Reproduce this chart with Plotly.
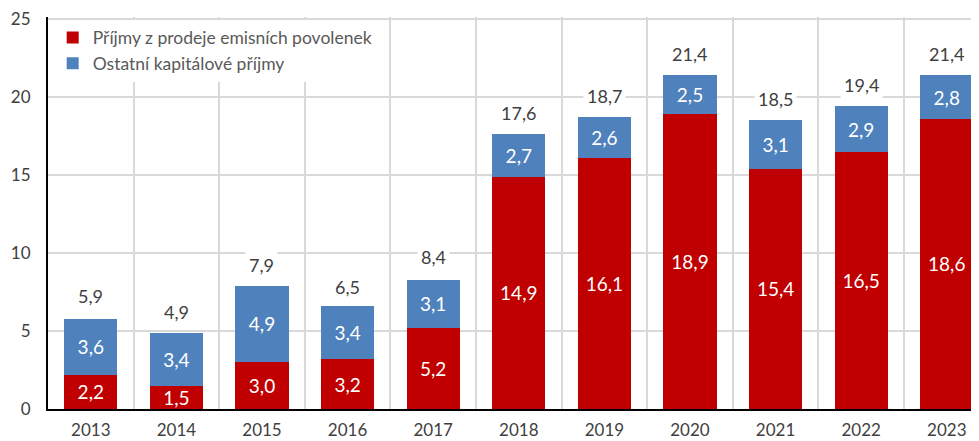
import plotly.graph_objects as go

years = ["2013", "2014", "2015", "2016", "2017", "2018", "2019", "2020", "2021", "2022", "2023"]
emise = [2.2, 1.5, 3.0, 3.2, 5.2, 14.9, 16.1, 18.9, 15.4, 16.5, 18.6]
ostatni = [3.6, 3.4, 4.9, 3.4, 3.1, 2.7, 2.6, 2.5, 3.1, 2.9, 2.8]
totals = [5.9, 4.9, 7.9, 6.5, 8.4, 17.6, 18.7, 21.4, 18.5, 19.4, 21.4]
y_ticks = [0, 5, 10, 15, 20, 25]

def fmt(v):
    return f"{v:.1f}".replace(".", ",")

FONT = "Lato, Calibri, Carlito, sans-serif"
GRID = "#D9D9D9"

fig = go.Figure()
fig.add_trace(go.Bar(
    x=years, y=emise, name="Příjmy z prodeje emisních povolenek",
    marker=dict(color="#C00000", line=dict(width=0)),
    text=[fmt(v) for v in emise], textposition="inside", insidetextanchor="middle",
    constraintext="none",
    textfont=dict(color="white", size=19, family=FONT), width=0.62,
))
fig.add_trace(go.Bar(
    x=years, y=ostatni, name="Ostatní kapitálové příjmy",
    marker=dict(color="#4F81BD", line=dict(width=0)),
    text=[fmt(v) for v in ostatni], textposition="inside", insidetextanchor="middle",
    constraintext="none",
    textfont=dict(color="white", size=19, family=FONT), width=0.62,
))

for i, t in enumerate(totals):
    fig.add_annotation(x=i, y=t, xref="x", yref="y", text=fmt(t), showarrow=False,
                       yanchor="bottom", yshift=6, bgcolor="white", borderpad=3,
                       font=dict(size=18, color="#404040", family=FONT))

# top gridline (at the highest tick) drawn explicitly
fig.add_shape(type="line", xref="paper", yref="y", x0=0, x1=1,
              y0=max(y_ticks), y1=max(y_ticks), layer="below",
              line=dict(color=GRID, width=2))

fig.update_layout(
    barmode="stack",
    width=979, height=441,
    margin=dict(l=40, r=0, t=9, b=40),
    plot_bgcolor="white", paper_bgcolor="white",
    font=dict(family=FONT, size=16, color="#404040"),
    legend=dict(x=0.005, y=0.993, xanchor="left", yanchor="top", bgcolor="white",
                font=dict(size=17.5, color="#595959", family=FONT),
                traceorder="normal", itemwidth=30, tracegroupgap=2),
    showlegend=True,
)
fig.update_xaxes(
    type="category", automargin=False,
    range=[-0.5, 10.47], showline=True, linecolor="black", linewidth=2,
    showgrid=True, gridcolor=GRID, gridwidth=2, tickson="boundaries",
    ticks="", tickfont=dict(size=17, color="#404040"), ticklabelstandoff=5,
    ticklabeloverflow="allow",
)
fig.update_yaxes(
    automargin=False,
    range=[0, 25.13], tickvals=y_ticks, showline=True, linecolor="black", linewidth=2,
    showgrid=True, gridcolor=GRID, gridwidth=2, ticks="", zeroline=False,
    tickfont=dict(size=17, color="#404040"), ticklabelstandoff=12,
    ticklabeloverflow="allow",
)

fig.write_html("out.html")
